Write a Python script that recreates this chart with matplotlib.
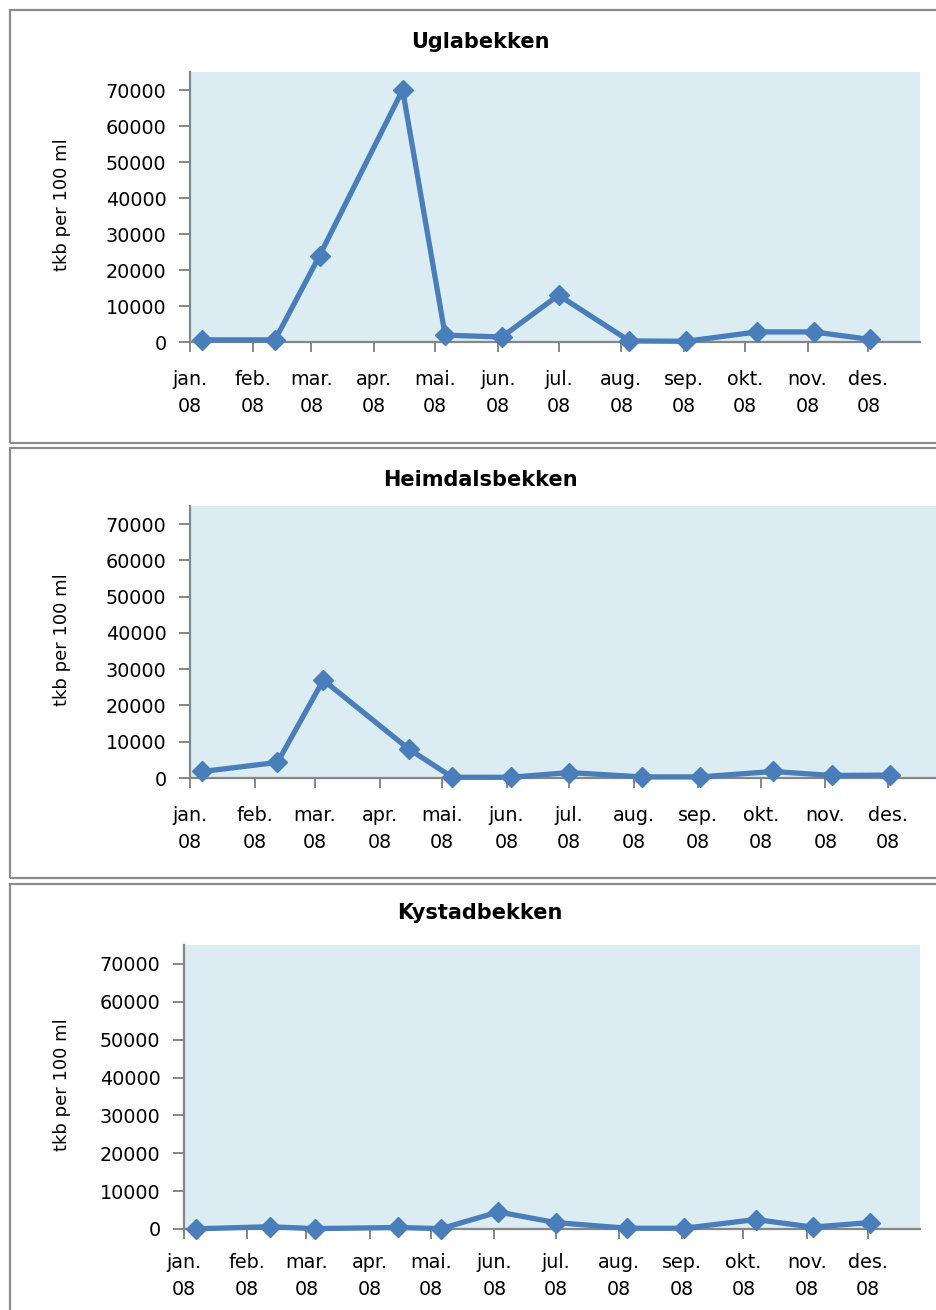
import datetime as dt
import matplotlib
matplotlib.use("Agg")
import matplotlib.pyplot as plt
from matplotlib.patches import Rectangle

# Sampling dates (2008) and bacteria counts (tkb per 100 ml) per stream
sample_dates = ["2008-01-07", "2008-02-12", "2008-03-05", "2008-04-15",
                "2008-05-06", "2008-06-03", "2008-07-01", "2008-08-05",
                "2008-09-02", "2008-10-07", "2008-11-04", "2008-12-02"]

uglabekken = [600, 600, 24000, 70000, 1900, 1400, 13000, 300, 200, 2800, 2800, 700]
heimdalsbekken = [1800, 4300, 27000, 8000, 200, 200, 1500, 300, 300, 1800, 700, 800]
kystadbekken = [50, 600, 100, 400, 100, 4500, 1700, 200, 200, 2500, 500, 1700]

stream_names = ["Uglabekken", "Heimdalsbekken", "Kystadbekken"]
month_labels = ["jan.\n08", "feb.\n08", "mar.\n08", "apr.\n08", "mai.\n08", "jun.\n08",
                "jul.\n08", "aug.\n08", "sep.\n08", "okt.\n08", "nov.\n08", "des.\n08"]
y_ticks = [0, 10000, 20000, 30000, 40000, 50000, 60000, 70000]
y_label = "tkb per 100 ml"

W, H = 936, 1310
DPI = 100
LINE = "#4a7ebb"
PLOT_BG = "#dbedf3"
AXIS_GREY = "#868686"
BORDER = "#8c8c8c"

fig = plt.figure(figsize=(W / DPI, H / DPI), dpi=DPI)
fig.patch.set_facecolor("white")


def frac_rect(x0, y0, x1, y1):
    """Pixel box (top-left origin) -> figure fraction [left, bottom, w, h]."""
    return [x0 / W, 1 - y1 / H, (x1 - x0) / W, (y1 - y0) / H]


# panel frames: (left, top, right, bottom) in pixels
frames = [(10, 10, 960, 443), (10, 448, 960, 878), (10, 884, 960, 1340)]
# plot areas: (left, top, right, bottom) in pixels
plot_boxes = [(190, 72, 920, 342), (190, 506, 941, 778), (184, 945, 920, 1229)]
label_pads = [13, 13, 10]
title_y = [42, 480, 913]
ylabel_x = 62

series = [uglabekken, heimdalsbekken, kystadbekken]
dates = [dt.datetime.strptime(d, "%Y-%m-%d") for d in sample_dates]
month_starts = [dt.datetime(2008, m, 1) for m in range(1, 13)]
x_min = dt.datetime(2008, 1, 1)
x_max = dt.datetime(2008, 12, 26, 12)

for (fx0, fy0, fx1, fy1) in frames:
    fig.patches.append(Rectangle((fx0 / W, 1 - fy1 / H), (fx1 - fx0) / W, (fy1 - fy0) / H,
                                 transform=fig.transFigure, fill=False,
                                 edgecolor=BORDER, linewidth=1.6, zorder=0))

for i, (name, values) in enumerate(zip(stream_names, series)):
    x0, y0, x1, y1 = plot_boxes[i]
    ax = fig.add_axes(frac_rect(x0, y0, x1, y1))
    ax.set_facecolor(PLOT_BG)
    ax.plot(dates, values, color=LINE, linewidth=3.8, marker="D",
            markersize=10.5, markerfacecolor=LINE, markeredgecolor=LINE,
            clip_on=False, zorder=3)
    ax.set_xlim(x_min, x_max)
    ax.set_ylim(0, 75000)
    ax.set_yticks(y_ticks)
    ax.set_yticklabels([str(v) for v in y_ticks])
    ax.set_xticks(month_starts)
    ax.set_xticklabels(month_labels, linespacing=1.55)
    for s in ("top", "right"):
        ax.spines[s].set_visible(False)
    for s in ("left", "bottom"):
        ax.spines[s].set_color(AXIS_GREY)
        ax.spines[s].set_linewidth(1.6)
    ax.tick_params(axis="y", direction="out", length=8, width=1.4, color=AXIS_GREY,
                   pad=9, labelsize=13.8, labelcolor="black")
    ax.tick_params(axis="x", direction="out", length=7, width=1.4, color=AXIS_GREY,
                   pad=label_pads[i], labelsize=13.8, labelcolor="black")
    for lbl in ax.get_xticklabels() + ax.get_yticklabels():
        lbl.set_fontfamily("DejaVu Sans")

    cx = 480 / W
    fig.text(cx, 1 - title_y[i] / H, name, ha="center", va="center",
             fontsize=15, fontweight="bold", family="DejaVu Sans")
    fig.text(ylabel_x / W, 1 - ((y0 + y1) / 2 - 2) / H, y_label, rotation=90,
             ha="center", va="center", fontsize=13, family="Liberation Sans Narrow")

fig.savefig("out.png", dpi=DPI, facecolor="white")
